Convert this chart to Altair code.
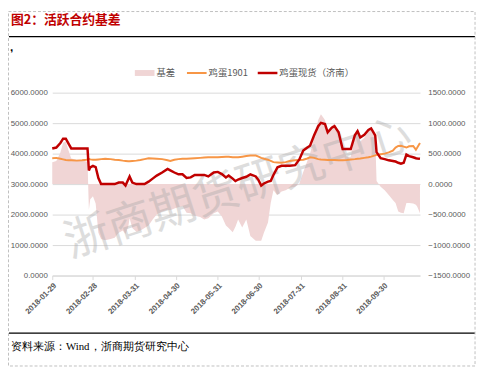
import altair as alt
import pandas as pd

# ---------------- data ----------------
dates = [
    "2018-01-29", "2018-02-01", "2018-02-04", "2018-02-06", "2018-02-08", "2018-02-10",
    "2018-02-12", "2018-02-16", "2018-02-20", "2018-02-23", "2018-02-24", "2018-02-25",
    "2018-02-26", "2018-02-28", "2018-03-02", "2018-03-04", "2018-03-06", "2018-03-09",
    "2018-03-13", "2018-03-16", "2018-03-19", "2018-03-22", "2018-03-24", "2018-03-26",
    "2018-03-27", "2018-03-29", "2018-04-01", "2018-04-04", "2018-04-07", "2018-04-10",
    "2018-04-13", "2018-04-16", "2018-04-20", "2018-04-24", "2018-04-26", "2018-04-29",
    "2018-05-02", "2018-05-05", "2018-05-08", "2018-05-11", "2018-05-14", "2018-05-18",
    "2018-05-21", "2018-05-24", "2018-05-28", "2018-05-31", "2018-06-03", "2018-06-06",
    "2018-06-08", "2018-06-11", "2018-06-13", "2018-06-15", "2018-06-18", "2018-06-21",
    "2018-06-24", "2018-06-28", "2018-06-30", "2018-07-02", "2018-07-04", "2018-07-07",
    "2018-07-09", "2018-07-11", "2018-07-14", "2018-07-17", "2018-07-20", "2018-07-23",
    "2018-07-27", "2018-07-30", "2018-08-02", "2018-08-05", "2018-08-07", "2018-08-10",
    "2018-08-13", "2018-08-15", "2018-08-18", "2018-08-20", "2018-08-23", "2018-08-25",
    "2018-08-28", "2018-08-31", "2018-09-03", "2018-09-06", "2018-09-09", "2018-09-11",
    "2018-09-13", "2018-09-16", "2018-09-19", "2018-09-21", "2018-09-24", "2018-09-25",
    "2018-09-28", "2018-10-01", "2018-10-04", "2018-10-07", "2018-10-09", "2018-10-11",
    "2018-10-13", "2018-10-15", "2018-10-17", "2018-10-19", "2018-10-22", "2018-10-24",
    "2018-10-25", "2018-10-27",
]

spot = [  # 鸡蛋现货（济南）
    4170, 4200, 4350, 4490, 4490, 4330,
    4170, 4170, 4170, 4170, 4170, 3450,
    3550, 3600, 3560, 3200, 3000, 3000,
    3000, 3000, 3050, 3050, 2950, 3150,
    3250, 3050, 3000, 3000, 3000, 3080,
    3180, 3280, 3380, 3500, 3450, 3380,
    3320, 3320, 3200, 3220, 3300, 3300,
    3300, 3250, 3380, 3400, 3330, 3220,
    3280, 3180, 3100, 3150, 3200, 3240,
    3320, 3250, 3130, 2950, 3020, 3080,
    3100, 3300, 3550, 3600, 3600, 3600,
    3620, 3800, 4100, 4200, 4260, 4600,
    4900, 5010, 4970, 4700, 4850, 4900,
    4700, 4150, 4150, 4150, 4600, 4740,
    4530, 4620, 4780, 4830, 4600, 4050,
    3850, 3820, 3780, 3760, 3740, 3700,
    3670, 3700, 3970, 3920, 3880, 3850,
    3840, 3830,
]

futures = [  # 鸡蛋1901
    3850, 3860, 3830, 3810, 3790, 3780,
    3780, 3770, 3780, 3800, 3810, 3830,
    3810, 3800, 3800, 3810, 3820, 3830,
    3820, 3800, 3790, 3770, 3760, 3750,
    3750, 3760, 3770, 3790, 3820, 3850,
    3840, 3830, 3820, 3780, 3760, 3800,
    3820, 3830, 3830, 3840, 3850, 3860,
    3870, 3880, 3880, 3880, 3890, 3900,
    3900, 3880, 3880, 3880, 3900, 3920,
    3935, 3935, 3900, 3860, 3830, 3800,
    3760, 3720, 3710, 3700, 3720, 3760,
    3780, 3790, 3800, 3840, 3880, 3860,
    3820, 3810, 3800, 3790, 3790, 3790,
    3780, 3780, 3790, 3810, 3820, 3830,
    3840, 3860, 3880, 3900, 3940, 3960,
    3980, 4000, 4040, 4100, 4200, 4250,
    4260, 4230, 4200, 4240, 4250, 4130,
    4200, 4350,
]

basis = [  # 基差
    360, 380, 520, 680, 700, 550,
    420, 400, 390, 370, 370, -420,
    -250, -200, -320, -800, -900, -920,
    -900, -880, -800, -760, -820, -700,
    -560, -720, -780, -760, -720, -680,
    -580, -500, -450, -420, -430, -400,
    -380, -360, -470, -480, -520, -540,
    -580, -560, -480, -450, -530, -680,
    -720, -790, -700, -580, -710, -580,
    -850, -930, -930, -930, -800, -630,
    -310, -100, -180, -120, -100, -60,
    -45, 0, 200, 380, 500, 760,
    1050, 1145, 1050, 870, 950, 1000,
    750, 600, 450, 450, 800, 870,
    700, 760, 860, 925, 800, 50,
    -45, -100, -180, -260, -310, -450,
    -470, -480, -310, -310, -320, -340,
    -370, -480,
]

x_ticks = ["2018-01-29", "2018-02-28", "2018-03-31", "2018-04-30", "2018-05-31",
           "2018-06-30", "2018-07-31", "2018-08-31", "2018-09-30"]
x_range = ["2018-01-29", "2018-10-27"]
left_ticks = [0, 1000, 2000, 3000, 4000, 5000, 6000]
right_ticks = [-1500, -1000, -500, 0, 500, 1000, 1500]

title_text = "图2：活跃合约基差"
source_text = "资料来源：Wind，浙商期货研究中心"
watermark_text = "浙商期货研究中心"
legend_names = ["基差", "鸡蛋1901", "鸡蛋现货（济南）"]

C_AREA = "#F0D5D5"
C_FUT = "#F79646"
C_SPOT = "#C00000"
C_TXT = "#595959"
C_GRID = "#D9D9D9"


def ms(s):
    return int(pd.Timestamp(s, tz="UTC").value // 10**6)


df = pd.DataFrame({"date": dates, "spot": spot, "futures": futures, "basis": basis})
one = pd.DataFrame({"k": [0]})

W, H = 374, 186

xscale = alt.Scale(type="utc", domain=[ms(x_range[0]), ms(x_range[1])])
xaxis = alt.Axis(
    values=[ms(t) for t in x_ticks],
    labelExpr="utcFormat(datum.value, '%Y-%m-%d')",
    labelAngle=-45, grid=False, domainColor=C_GRID, tickColor=C_GRID, tickSize=4,
    labelFontSize=8, labelColor=C_TXT, labelFont="Liberation Sans",
    labelFontWeight="bold", labelPadding=2, title=None,
)
X = alt.X("date:T", scale=xscale, axis=xaxis)

left_axis = alt.Axis(
    orient="left", values=left_ticks, format=".4f", grid=True, gridColor=C_GRID,
    domain=False, ticks=False, labelPadding=5, labelFontSize=8, labelColor=C_TXT,
    labelFont="Liberation Sans", title=None,
)
right_axis = alt.Axis(
    orient="right", values=right_ticks, format=".4f", grid=False,
    domain=False, ticks=False, labelPadding=8, labelFontSize=8, labelColor=C_TXT,
    labelFont="Liberation Sans", title=None,
)
lscale = alt.Scale(domain=[0, 6000], nice=False, zero=False)
rscale = alt.Scale(domain=[-1500, 1500], nice=False)

base = alt.Chart(df)

area = base.mark_area(color=C_AREA, opacity=1).encode(
    x=X,
    y=alt.Y("basis:Q", scale=rscale, axis=right_axis),
    y2=alt.datum(0),
)

fut_line = base.mark_line(color=C_FUT, strokeWidth=2).encode(
    x=X, y=alt.Y("futures:Q", scale=lscale, axis=left_axis)
)
spot_line = base.mark_line(color=C_SPOT, strokeWidth=2.5).encode(
    x=X, y=alt.Y("spot:Q", scale=lscale, axis=left_axis)
)
lines = alt.layer(fut_line, spot_line)

ov = alt.Chart(one)

watermark = ov.mark_text(
    text=watermark_text, font="Noto Sans CJK SC", fontSize=46, angle=342,
    color="#A8A8A8", opacity=0.38, align="center", baseline="middle",
).encode(x=alt.value(189), y=alt.value(98))

title = ov.mark_text(
    text=title_text, font="Noto Sans CJK SC", fontWeight="bold", fontSize=13,
    color=C_SPOT, align="left", baseline="middle",
).encode(x=alt.value(-42), y=alt.value(-74))

comma = ov.mark_text(
    text=",", font="Liberation Sans", fontWeight="bold", fontSize=12,
    color="#000000", align="left", baseline="middle",
).encode(x=alt.value(-43), y=alt.value(-46))

top_rule = ov.mark_rule(color="#000000", strokeWidth=1.2).encode(
    x=alt.value(-44), x2=alt.value(430), y=alt.value(-57)
)
bottom_rule = ov.mark_rule(color="#000000", strokeWidth=1.2).encode(
    x=alt.value(-44), x2=alt.value(430), y=alt.value(244.5)
)

border = ov.mark_rect(
    fill=None, filled=False, stroke="#BFBFBF", strokeWidth=1, strokeDash=[3, 2]
).encode(x=alt.value(-44.5), x2=alt.value(430), y=alt.value(-82.5), y2=alt.value(278))

source = ov.mark_text(
    text=source_text, font="Liberation Serif", fontSize=11, color="#000000",
    align="left", baseline="middle",
).encode(x=alt.value(-42), y=alt.value(259))

leg_y = -20
leg_rect = ov.mark_rect(color=C_AREA).encode(
    x=alt.value(84), x2=alt.value(104), y=alt.value(leg_y - 3), y2=alt.value(leg_y + 3)
)
leg_fut = ov.mark_rule(color=C_FUT, strokeWidth=2).encode(
    x=alt.value(137), x2=alt.value(157), y=alt.value(leg_y)
)
leg_spot = ov.mark_rule(color=C_SPOT, strokeWidth=2.5).encode(
    x=alt.value(209), x2=alt.value(229), y=alt.value(leg_y)
)


def leg_text(label, xpos):
    return ov.mark_text(
        text=label, font="Noto Sans CJK SC", fontSize=9.5, color=C_TXT,
        align="left", baseline="middle",
    ).encode(x=alt.value(xpos), y=alt.value(leg_y))


chart = alt.layer(
    area, watermark, lines,
    title, comma, top_rule, bottom_rule, border, source,
    leg_rect, leg_fut, leg_spot,
    leg_text(legend_names[0], 106), leg_text(legend_names[1], 159),
    leg_text(legend_names[2], 231),
).resolve_scale(y="independent").properties(
    width=W, height=H,
    autosize=alt.AutoSizeParams(type="none"),
    padding={"left": 45, "top": 83, "right": 58, "bottom": 95},
    background="#FFFFFF",
).configure_view(stroke=None)

chart.save("out.html", embed_options={"renderer": "svg", "actions": False})
